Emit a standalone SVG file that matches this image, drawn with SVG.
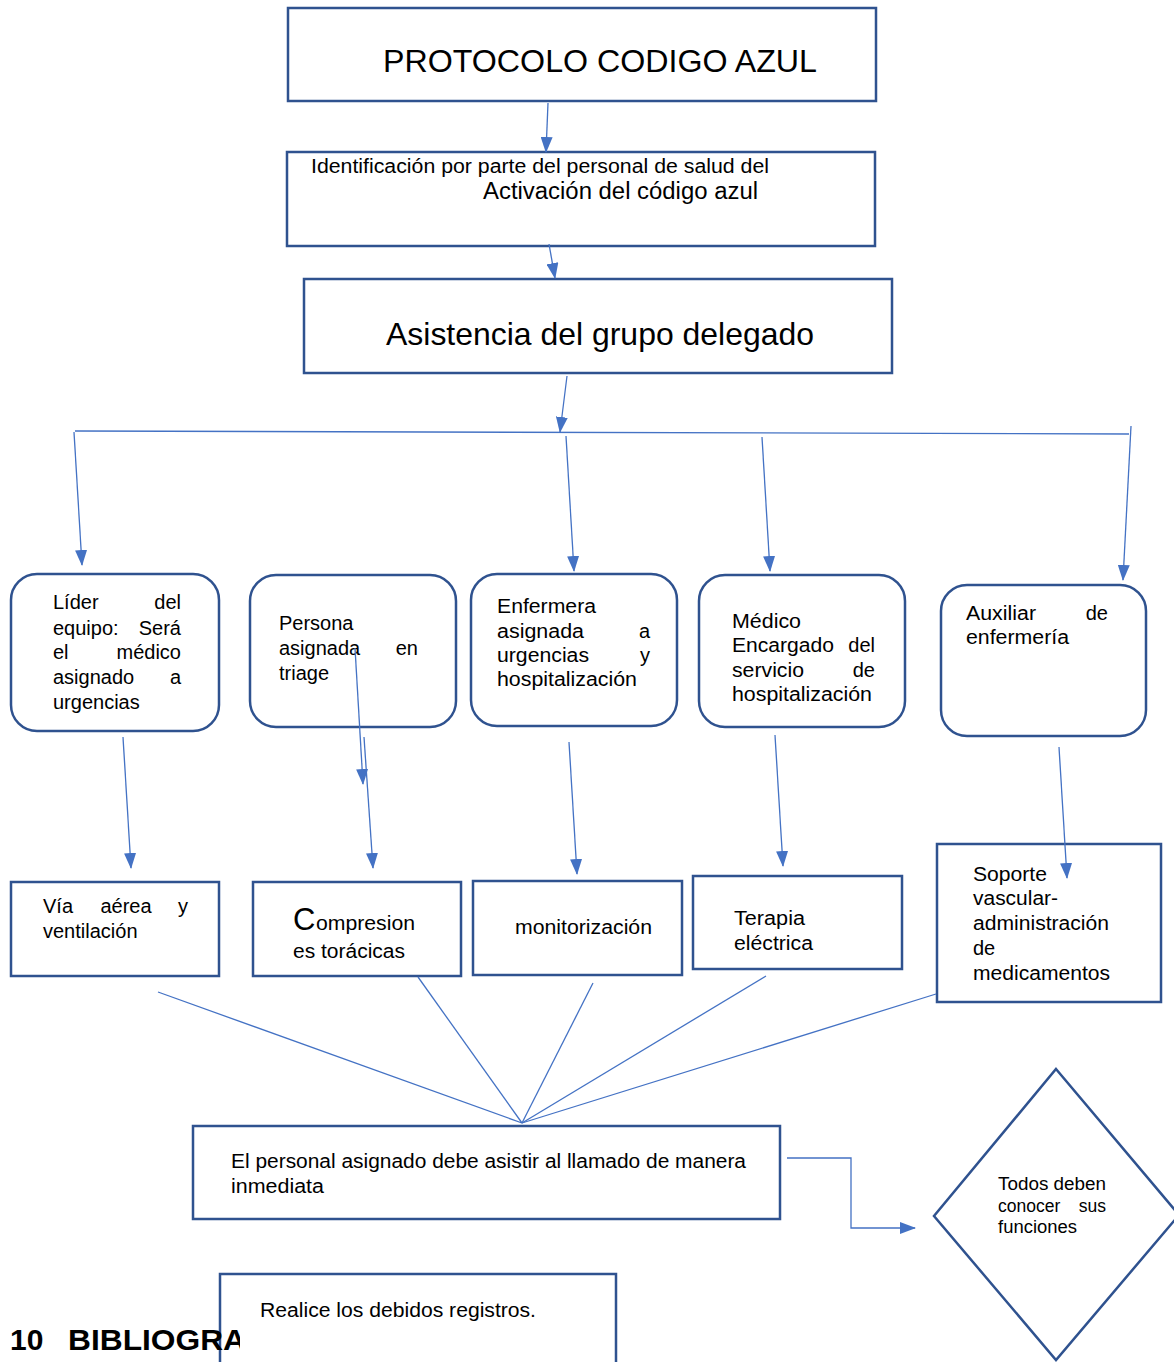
<svg xmlns="http://www.w3.org/2000/svg" width="1174" height="1362" viewBox="0 0 1174 1362">
<defs>
<marker id="ah" viewBox="0 0 16 12" refX="15" refY="6" markerWidth="16" markerHeight="12" orient="auto" markerUnits="userSpaceOnUse">
<path d="M0,0 L16,6 L0,12 z" fill="#4472C4"/>
</marker>
<clipPath id="bibclip"><rect x="0" y="1300" width="240" height="62"/></clipPath>
<style>
.box{fill:#fff;stroke:#2F528F;stroke-width:2.5}
.t{font-family:"Liberation Sans",Arial,sans-serif;fill:#000}
.c{stroke:#4472C4;stroke-width:1.3;fill:none}
.ca{stroke:#4472C4;stroke-width:1.3;fill:none;marker-end:url(#ah)}
</style>
</defs>
<rect width="1174" height="1362" fill="#fff"/>

<g id="n1"><rect class="box" x="288" y="8" width="588" height="93"/>
<text class="t" x="383" y="72" font-size="32" textLength="434" lengthAdjust="spacingAndGlyphs">PROTOCOLO CODIGO AZUL</text></g>

<g id="n2"><rect class="box" x="287" y="152" width="588" height="94"/>
<text class="t" x="311" y="173" font-size="20" textLength="458" lengthAdjust="spacingAndGlyphs">Identificación por parte del personal de salud del</text>
<text class="t" x="483" y="199" font-size="23" textLength="275" lengthAdjust="spacingAndGlyphs">Activación del código azul</text></g>

<g id="n3"><rect class="box" x="304" y="279" width="588" height="94"/>
<text class="t" x="386" y="345" font-size="32" textLength="428" lengthAdjust="spacingAndGlyphs">Asistencia del grupo delegado</text></g>

<g id="nA"><rect class="box" x="11" y="574" width="208" height="157" rx="26"/>
<g class="t" font-size="20">
<text x="53" y="609">Líder</text><text x="181" y="609" text-anchor="end">del</text>
<text x="53" y="635">equipo:</text><text x="181" y="635" text-anchor="end">Será</text>
<text x="53" y="659">el</text><text x="181" y="659" text-anchor="end">médico</text>
<text x="53" y="684">asignado</text><text x="181" y="684" text-anchor="end">a</text>
<text x="53" y="709">urgencias</text></g></g>

<g id="nB"><rect class="box" x="250" y="575" width="206" height="152" rx="26"/>
<g class="t" font-size="20">
<text x="279" y="630">Persona</text>
<text x="279" y="655">asignada</text><text x="418" y="655" text-anchor="end">en</text>
<text x="279" y="680">triage</text></g></g>

<g id="nC"><rect class="box" x="471" y="574" width="206" height="152" rx="26"/>
<g class="t" font-size="20">
<text x="497" y="613" textLength="99" lengthAdjust="spacingAndGlyphs">Enfermera</text>
<text x="497" y="638" textLength="87" lengthAdjust="spacingAndGlyphs">asignada</text><text x="650" y="638" text-anchor="end">a</text>
<text x="497" y="662" textLength="92" lengthAdjust="spacingAndGlyphs">urgencias</text><text x="650" y="662" text-anchor="end">y</text>
<text x="497" y="686" textLength="140" lengthAdjust="spacingAndGlyphs">hospitalización</text></g></g>

<g id="nD"><rect class="box" x="699" y="575" width="206" height="152" rx="26"/>
<g class="t" font-size="20">
<text x="732" y="628" textLength="69" lengthAdjust="spacingAndGlyphs">Médico</text>
<text x="732" y="652" textLength="102" lengthAdjust="spacingAndGlyphs">Encargado</text><text x="875" y="652" text-anchor="end">del</text>
<text x="732" y="677" textLength="72" lengthAdjust="spacingAndGlyphs">servicio</text><text x="875" y="677" text-anchor="end">de</text>
<text x="732" y="701" textLength="140" lengthAdjust="spacingAndGlyphs">hospitalización</text></g></g>

<g id="nE"><rect class="box" x="941" y="585" width="205" height="151" rx="26"/>
<g class="t" font-size="20">
<text x="966" y="620" textLength="70" lengthAdjust="spacingAndGlyphs">Auxiliar</text><text x="1108" y="620" text-anchor="end">de</text>
<text x="966" y="644" textLength="103" lengthAdjust="spacingAndGlyphs">enfermería</text></g></g>

<g id="nF"><rect class="box" x="11" y="882" width="208" height="94"/>
<g class="t" font-size="20">
<text x="43" y="913">Vía</text><text x="126" y="913" text-anchor="middle">aérea</text><text x="188" y="913" text-anchor="end">y</text>
<text x="43" y="938">ventilación</text></g></g>

<g id="nG"><rect class="box" x="253" y="882" width="208" height="94"/>
<text class="t" x="293" y="930" font-size="31">C</text>
<text class="t" x="316" y="930" font-size="20" textLength="99" lengthAdjust="spacingAndGlyphs">ompresion</text>
<text class="t" x="293" y="958" font-size="20" textLength="112" lengthAdjust="spacingAndGlyphs">es torácicas</text></g>

<g id="nH"><rect class="box" x="473" y="881" width="209" height="94"/>
<text class="t" x="515" y="934" font-size="20" textLength="137" lengthAdjust="spacingAndGlyphs">monitorización</text></g>

<g id="nI"><rect class="box" x="693" y="876" width="209" height="93"/>
<text class="t" x="734" y="925" font-size="20" textLength="71" lengthAdjust="spacingAndGlyphs">Terapia</text>
<text class="t" x="734" y="950" font-size="20" textLength="79" lengthAdjust="spacingAndGlyphs">eléctrica</text></g>

<g id="nJ"><rect class="box" x="937" y="844" width="224" height="158"/>
<g class="t" font-size="20">
<text x="973" y="881" textLength="74" lengthAdjust="spacingAndGlyphs">Soporte</text>
<text x="973" y="905" textLength="85" lengthAdjust="spacingAndGlyphs">vascular-</text>
<text x="973" y="930" textLength="136" lengthAdjust="spacingAndGlyphs">administración</text>
<text x="973" y="955">de</text>
<text x="973" y="980" textLength="137" lengthAdjust="spacingAndGlyphs">medicamentos</text></g></g>

<g id="nK"><rect class="box" x="193" y="1126" width="587" height="93"/>
<text class="t" x="231" y="1168" font-size="20" textLength="515" lengthAdjust="spacingAndGlyphs">El personal asignado debe asistir al llamado de manera</text>
<text class="t" x="231" y="1193" font-size="20" textLength="93" lengthAdjust="spacingAndGlyphs">inmediata</text></g>

<g id="nL"><rect class="box" x="220" y="1274" width="396" height="100"/>
<text class="t" x="260" y="1317" font-size="20" textLength="276" lengthAdjust="spacingAndGlyphs">Realice los debidos registros.</text></g>

<g id="bibliografia" clip-path="url(#bibclip)"><text class="t" y="1350" font-size="30" font-weight="bold"><tspan x="10">10</tspan><tspan x="68" textLength="178" lengthAdjust="spacingAndGlyphs">BIBLIOGRA</tspan></text></g>

<g id="nM"><path class="box" d="M1056,1069 L1179,1215 L1056,1360 L934,1216 Z"/>
<g class="t" font-size="17.5">
<text x="998" y="1190" textLength="108" lengthAdjust="spacingAndGlyphs">Todos deben</text>
<text x="998" y="1212">conocer</text><text x="1106" y="1212" text-anchor="end">sus</text>
<text x="998" y="1233" textLength="79" lengthAdjust="spacingAndGlyphs">funciones</text></g></g>

<g id="connectors">
<line class="ca" x1="548" y1="103" x2="546" y2="152"/>
<line class="ca" x1="549" y1="244" x2="555" y2="278"/>
<line class="ca" x1="567" y1="376" x2="560" y2="432"/>
<line class="c" x1="75" y1="431" x2="1129" y2="434"/>
<line class="ca" x1="74" y1="432" x2="82" y2="565"/>
<line class="ca" x1="566" y1="436" x2="574" y2="571"/>
<line class="ca" x1="762" y1="437" x2="770" y2="571"/>
<line class="ca" x1="1131" y1="426" x2="1123" y2="580"/>
<line class="ca" x1="123" y1="737" x2="131" y2="868"/>
<line class="ca" x1="355" y1="648" x2="363" y2="784"/>
<line class="ca" x1="364" y1="737" x2="373" y2="868"/>
<line class="ca" x1="569" y1="742" x2="577" y2="874"/>
<line class="ca" x1="775" y1="735" x2="783" y2="866"/>
<line class="ca" x1="1059" y1="747" x2="1067" y2="878"/>
<line class="c" x1="158" y1="992" x2="522" y2="1123"/>
<line class="c" x1="418" y1="977" x2="522" y2="1123"/>
<line class="c" x1="593" y1="983" x2="522" y2="1123"/>
<line class="c" x1="766" y1="976" x2="522" y2="1123"/>
<line class="c" x1="936" y1="994" x2="522" y2="1123"/>
<polyline class="ca" points="787,1158 851,1158 851,1228 915,1228"/>
</g>
</svg>
